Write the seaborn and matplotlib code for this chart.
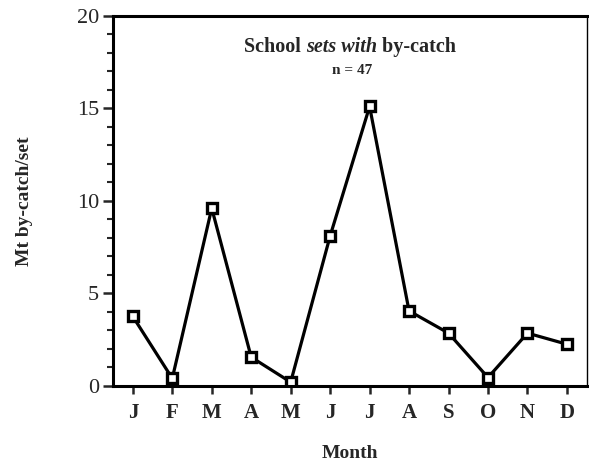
import matplotlib
matplotlib.use("Agg")
import matplotlib.pyplot as plt
import seaborn as sns
import pandas as pd
from matplotlib.offsetbox import TextArea, HPacker, AnchoredOffsetbox
from matplotlib.ticker import MultipleLocator

months = ["J", "F", "M", "A", "M", "J", "J", "A", "S", "O", "N", "D"]
bycatch = [3.75, 0.4, 9.6, 1.55, 0.2, 8.1, 15.1, 4.05, 2.85, 0.45, 2.85, 2.25]

df = pd.DataFrame({"idx": range(len(months)), "bycatch": bycatch})

sns.set_style("ticks")
plt.rcParams["font.family"] = ["Liberation Serif", "DejaVu Serif"]
plt.rcParams["font.weight"] = "bold"

fig = plt.figure(figsize=(5.89, 4.66), dpi=100)
ax = fig.add_axes([0.192, 0.172, 0.804, 0.794])

sns.lineplot(data=df, x="idx", y="bycatch", ax=ax, color="black", linewidth=2.3,
             marker="s", markersize=6.5, markerfacecolor="white",
             markeredgecolor="black", markeredgewidth=2.4)

ax.set_xlim(-0.5, 11.5)
ax.set_ylim(0, 20)
ax.set_xticks(range(len(months)))
ax.set_xticklabels(months, fontsize=15, fontweight="bold")
ax.yaxis.set_major_locator(MultipleLocator(5))
ax.yaxis.set_minor_locator(MultipleLocator(1))
ax.tick_params(axis="y", which="major", direction="out", length=7, width=1.8,
               labelsize=16, pad=3)
ax.tick_params(axis="y", which="minor", direction="out", length=4, width=1.5)
ax.tick_params(axis="x", which="major", direction="out", length=6, width=1.8,
               labelsize=15, pad=6)
for lab in ax.get_yticklabels():
    lab.set_fontweight("normal")

for side in ["left", "bottom", "top"]:
    ax.spines[side].set_linewidth(2.2)
ax.spines["right"].set_linewidth(1.0)
for s in ax.spines.values():
    s.set_visible(True)
    s.set_color("black")

ax.set_xlabel("Month", fontsize=14, fontweight="bold", labelpad=16)
ax.set_ylabel("Mt by-catch/set", fontsize=14, fontweight="bold", labelpad=32)

# Title with mixed upright/italic pieces
pieces = [TextArea("School ", textprops=dict(fontsize=14.5, fontweight="bold")),
          TextArea("sets with", textprops=dict(fontsize=14.5, fontweight="bold", fontstyle="italic")),
          TextArea(" by-catch", textprops=dict(fontsize=14.5, fontweight="bold"))]
box = HPacker(children=pieces, align="baseline", pad=0, sep=0)
anch = AnchoredOffsetbox(loc="center", child=box, pad=0, frameon=False,
                         bbox_to_anchor=(0.594, 0.899), bbox_transform=fig.transFigure,
                         borderpad=0)
fig.add_artist(anch)
fig.text(0.597, 0.849, "n = 47", ha="center", va="center", fontsize=11, fontweight="bold")

fig.savefig("out.png", dpi=100, facecolor="white")
